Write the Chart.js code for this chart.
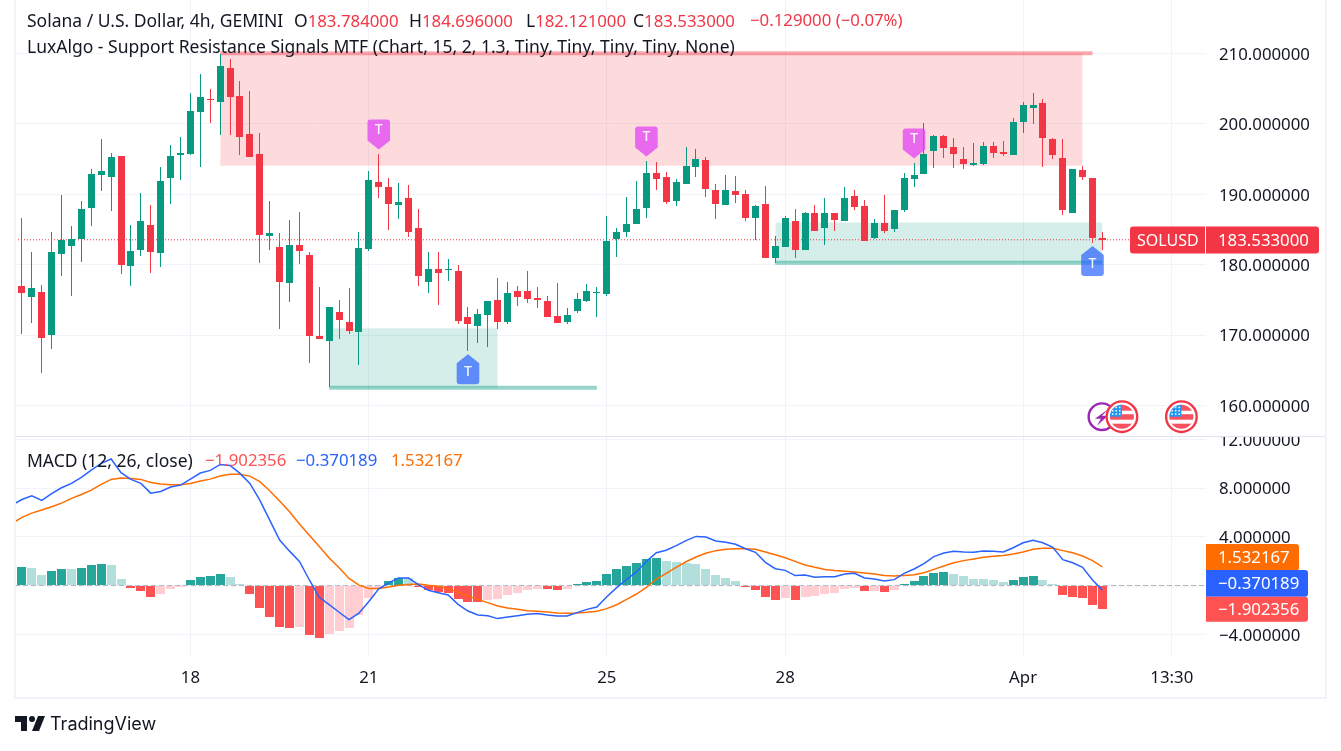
<!DOCTYPE html>
<html><head><meta charset="utf-8"><title>SOLUSD</title>
<script src="https://cdn.jsdelivr.net/npm/chart.js@4/dist/chart.umd.js"></script>
<style>
html,body{margin:0;padding:0;background:#fff;}
#wrap{position:relative;width:1341px;height:751px;overflow:hidden;font-family:"Noto Sans",sans-serif;color:#131722;}
canvas{position:absolute;left:0;top:0;}
.t{position:absolute;white-space:pre;font-size:17.5px;line-height:22px;}
.n{font-size:16.8px}
.r{color:#f23645}
</style></head><body>
<div id="wrap">
<canvas id="c" width="1341" height="751"></canvas>
<span class="t" style="left:27px;top:9px">Solana / U.S. Dollar, 4h, GEMINI</span>
<span class="t" style="left:294px;top:9px">O<span class="r n">183.784000</span></span>
<span class="t" style="left:409px;top:9px">H<span class="r n">184.696000</span></span>
<span class="t" style="left:526px;top:9px">L<span class="r n">182.121000</span></span>
<span class="t" style="left:633px;top:9px">C<span class="r n">183.533000</span></span>
<span class="t r n" style="left:750px;top:9px">−0.129000 (−0.07%)</span>
<span class="t" style="left:27px;top:35px">LuxAlgo - Support Resistance Signals MTF (Chart, 15, 2, 1.3, Tiny, Tiny, Tiny, Tiny, None)</span>
<span class="t" style="left:27px;top:449px">MACD (12, 26, close)</span>
<span class="t n" style="left:205px;top:449px;color:#ff5252">−1.902356</span>
<span class="t n" style="left:296px;top:449px;color:#2962ff">−0.370189</span>
<span class="t n" style="left:391px;top:449px;color:#ff6d00">1.532167</span>
<svg style="position:absolute;left:13px;top:710px" width="36" height="28" viewBox="0 0 36 28"><path fill="#131722" d="M14 6H2v6h6v9h6V6Zm12 15h-7l6-15h7l-6 15Zm-7-9a3 3 0 1 0 0-6 3 3 0 0 0 0 6Z"/></svg>
<span class="t" style="left:50px;top:713px;font-size:18px;font-family:Inter,sans-serif;">TradingView</span>
</div>
<script>
const opens=[176.95,175.39,176.10,169.99,181.50,182.63,183.63,188.03,192.72,192.43,
195.42,179.79,182.06,185.61,181.64,192.29,195.56,195.70,201.67,203.51,
203.09,207.92,203.94,198.54,195.70,184.05,182.49,177.38,182.77,181.35,
169.85,169.14,173.26,171.84,170.42,182.21,191.72,191.01,188.46,189.45,
185.19,177.52,179.36,179.22,179.08,172.55,171.27,172.83,174.96,171.84,
176.24,176.24,175.25,174.82,172.69,171.84,173.40,174.82,175.96,175.81,
183.63,184.62,185.76,188.03,193.00,192.43,189.02,191.44,193.85,194.85,
190.59,188.46,190.44,190.02,186.61,188.60,180.93,182.49,186.18,182.06,
187.32,185.19,187.32,186.18,189.73,188.31,183.77,185.90,185.05,187.75,
192.15,192.86,196.13,198.26,196.69,194.99,194.14,194.28,196.84,195.98,
195.56,200.25,202.23,202.94,197.83,195.13,187.32,193.43,192.29,183.784];
const highs=[186.56,181.78,177.09,184.62,189.88,185.47,189.02,193.57,197.83,195.84,
195.42,185.61,190.16,188.46,193.85,196.98,198.12,204.37,207.06,204.93,
209.91,209.20,206.07,204.65,198.68,189.02,184.48,186.32,187.46,181.78,
176.81,173.97,174.96,176.67,184.62,193.29,195.70,192.29,191.58,191.30,
187.89,181.78,181.78,180.79,179.93,173.97,173.68,174.82,178.09,177.52,
176.95,179.08,176.81,175.53,177.38,173.82,175.96,177.23,176.81,186.89,
185.19,189.59,191.86,194.71,194.56,193.14,192.15,196.69,196.41,195.27,
191.44,192.72,192.58,190.59,188.46,191.15,184.05,186.89,187.89,187.46,
188.46,189.45,187.32,191.01,190.59,189.17,186.47,189.88,187.75,193.00,
194.42,200.10,198.40,198.40,197.97,196.69,197.26,197.40,197.40,197.55,
200.81,203.09,204.37,203.51,197.97,197.83,193.57,194.00,192.29,184.696];
const lows=[170.13,171.69,164.59,168.00,178.37,175.53,180.36,185.47,190.44,187.60,
178.65,176.95,181.21,178.80,179.65,188.60,192.01,195.56,193.85,200.10,
198.40,198.40,195.56,195.27,180.22,182.06,170.84,174.68,180.07,166.01,
169.42,162.65,169.42,170.13,165.73,181.92,189.45,184.90,186.47,183.91,
176.95,175.96,174.25,177.66,171.55,167.72,168.85,168.28,170.84,171.55,
174.11,174.53,173.82,172.55,171.69,171.55,173.11,174.68,172.55,175.53,
181.07,183.91,185.76,186.61,190.59,188.60,188.31,191.44,192.43,189.59,
186.47,188.46,188.74,186.18,183.48,180.93,180.22,182.49,180.93,182.06,
184.76,182.77,184.76,186.18,187.75,183.34,183.63,184.48,184.62,187.46,
191.01,192.86,193.71,195.13,193.71,193.57,194.00,194.14,195.13,195.42,
195.56,198.68,199.96,193.85,194.99,187.04,187.32,192.01,183.06,182.121];
const closes=[175.96,176.67,169.56,181.78,183.48,183.63,187.89,192.86,193.29,195.27,
179.93,181.92,186.18,181.78,191.86,195.42,195.84,201.81,203.80,203.37,
208.20,203.80,198.12,195.27,184.19,184.48,177.52,182.77,181.92,169.85,
169.42,173.97,172.12,170.56,182.35,192.01,191.01,188.60,188.88,184.62,
178.37,179.36,178.80,179.36,171.98,171.55,172.97,174.82,171.84,175.96,
175.39,175.10,174.96,172.55,171.69,172.83,175.10,176.24,176.10,183.34,
184.62,185.76,187.89,193.00,192.15,188.88,191.72,194.00,194.99,190.73,
188.60,190.59,189.88,186.61,188.31,180.93,182.63,186.61,182.06,187.32,
184.76,187.32,186.32,189.45,188.17,183.34,185.90,184.76,187.75,192.29,
192.72,195.70,198.26,196.55,195.70,194.28,194.42,196.84,195.84,195.70,
200.25,202.66,202.66,197.97,195.56,187.75,193.57,192.43,183.78,183.533];

// MACD pane: the first entry of each series is the bar just left of the first candle
const histogram=[1.37,1.50,1.42,0.85,1.18,1.34,1.34,1.42,1.67,1.75,1.67,0.52,
-0.22,-0.47,-0.96,-0.71,-0.30,-0.14,0.44,0.68,0.77,0.93,0.68,0.03,
-0.71,-1.86,-2.60,-3.42,-3.50,-3.42,-4.08,-4.32,-4.00,-3.75,-3.50,-2.44,-1.04,-0.20,
0.36,0.62,0.60,-0.14,-0.36,-0.55,-0.60,-1.09,-1.34,-1.34,-1.18,-1.09,-0.77,-0.60,-0.36,-0.27,-0.27,-0.36,-0.27,
0.05,0.30,0.38,0.96,1.37,1.61,1.86,2.19,2.27,2.03,1.94,1.86,1.78,1.37,0.88,0.63,0.38,
-0.11,-0.36,-0.93,-1.18,-1.01,-1.18,-0.93,-0.85,-0.68,-0.60,-0.27,-0.19,-0.44,-0.44,-0.52,-0.36,
0.14,0.38,0.79,1.04,1.12,0.96,0.79,0.55,0.55,0.47,0.30,0.47,0.71,0.79,0.47,0.02,
-0.77,-0.93,-1.01,-1.59,-1.902356];
const histStrong=[1,1,0,0,1,1,0,1,1,1,0,0,
1,1,1,0,0,0,1,1,1,1,0,0,
1,1,1,1,1,0,1,1,0,0,0,0,0,0,
1,1,0,1,1,1,1,1,1,1,0,0,0,0,0,0,1,1,0,
1,1,1,1,1,1,1,1,1,0,0,0,0,0,0,0,0,
1,1,1,1,0,1,0,0,0,0,0,0,1,0,1,0,
1,1,1,1,1,0,0,0,0,0,0,1,1,1,0,0,
1,1,1,1,1];
const macdLine=[6.60,7.07,7.37,6.99,7.56,8.03,8.39,8.88,9.48,10.03,10.39,9.27,
8.72,8.39,7.59,7.73,8.09,8.25,8.74,9.24,9.46,9.95,9.87,9.21,8.39,7.02,5.38,3.74,2.83,1.99,0.46,
-0.96,-1.56,-2.19,-2.79,-2.27,-1.31,-0.27,0.22,0.63,0.62,0.08,-0.39,-0.58,-0.77,-1.54,-2.09,-2.41,-2.47,-2.71,-2.58,
-2.47,-2.36,-2.30,-2.41,-2.50,-2.50,-2.22,-1.95,-1.76,-0.91,-0.17,0.51,1.12,1.99,2.70,2.90,3.28,3.69,4.04,3.99,
3.66,3.55,3.39,3.03,2.73,1.91,1.39,1.25,0.82,0.87,0.68,0.73,0.73,0.95,1.01,0.62,0.54,0.38,0.49,1.01,
1.36,1.80,2.38,2.68,2.81,2.76,2.73,2.84,2.81,2.76,3.11,3.52,3.72,3.52,3.14,2.13,1.88,1.50,0.46,-0.370189];
const signalLine=[5.10,5.60,5.95,6.20,6.47,6.77,7.16,7.48,7.84,8.31,8.72,8.83,
8.80,8.72,8.47,8.34,8.28,8.28,8.39,8.58,8.74,8.99,9.15,9.15,8.99,8.53,7.79,6.94,6.06,5.05,4.14,
3.22,2.26,1.47,0.59,0.04,-0.23,-0.23,-0.12,0.02,0.10,0.13,0.02,-0.06,-0.25,-0.56,-0.85,-1.13,-1.40,-1.67,-1.84,
-1.95,-2.06,-2.11,-2.17,-2.25,-2.28,-2.25,-2.19,-2.11,-1.89,-1.57,-1.13,-0.69,-0.14,0.54,1.01,1.50,1.96,2.35,2.65,
2.87,2.98,3.03,3.03,2.98,2.76,2.54,2.29,1.99,1.69,1.50,1.33,1.23,1.17,1.12,1.03,0.95,0.82,0.79,0.82,
0.90,1.06,1.33,1.61,1.88,2.05,2.18,2.32,2.40,2.48,2.59,2.76,2.98,3.06,3.06,2.87,2.70,2.43,2.05,1.532167];

// Tick labels
const timeTickBars=[17,35,59,77,101,116];
const timeTickLabels=["18","21","25","28","Apr","13:30"];
const priceTicks=[160,170,180,190,200,210];
const macdTicks=[-4,0,4,8,12];

// Support / resistance zones
const resistanceFrom=20, resistanceTo=107, resistanceLineTo=108, resistanceTop=210, resistanceBottom=194.03;
const supportAFrom=31, supportATo=48, supportALineTo=58, supportATop=170.98, supportALevel=162.53;
const supportBFrom=76, supportBTo=109, supportBLineTo=109, supportBTop=185.99, supportBLevel=180.26;

const sellSignals=[36,63,90];
const buySignals=[45,108];
const eventBolt=[111];
const eventFlags=[111,117];
const lastPrice=183.533;
const macdLastLabels=["1.532167","−0.370189","−1.902356"];

const UP='#089981', DOWN='#f23645', GRID='#f0f3fa', TEXT='#131722';
const X_MIN=-0.696, X_MAX=119.45;
const FONT='"Noto Sans",sans-serif';
const idx=opens.map((_,i)=>i);
const candleColor=i=>closes[i]>=opens[i]?UP:DOWN;

function seg(a,b,v){return [{x:a,y:v},{x:b,y:v}];}
function zone(from,to,top,bottom,fill){
  return {type:'line',yAxisID:'y',data:seg(from,to,top),borderWidth:0,pointRadius:0,backgroundColor:fill,fill:{value:bottom},order:20};
}
function level(from,to,v,color){
  return {type:'line',yAxisID:'y',data:seg(from,to,v),borderColor:color,borderWidth:4,pointRadius:0,borderCapStyle:'butt',fill:false,order:19};
}
function noPad(s){s.paddingTop=0;s.paddingBottom=0;s.paddingLeft=0;s.paddingRight=0;}

const datasets=[
 zone(resistanceFrom,resistanceTo,resistanceTop,resistanceBottom,'rgba(242,54,69,0.18)'),
 level(resistanceFrom,resistanceLineTo,resistanceTop,'rgba(242,54,69,0.42)'),
 zone(supportAFrom,supportATo,supportATop,supportALevel,'rgba(8,153,129,0.17)'),
 level(supportAFrom,supportALineTo,supportALevel,'rgba(8,153,129,0.42)'),
 zone(supportBFrom,supportBTo,supportBTop,supportBLevel,'rgba(8,153,129,0.17)'),
 level(supportBFrom,supportBLineTo,supportBLevel,'rgba(8,153,129,0.42)'),
 {type:'line',yAxisID:'y',data:seg(X_MIN,X_MAX,lastPrice),borderColor:DOWN,borderWidth:1,borderDash:[1,2],pointRadius:0,order:12},
 {type:'bar',yAxisID:'y',data:idx.map(i=>({x:i,y:[lows[i],highs[i]]})),backgroundColor:idx.map(candleColor),barThickness:1,grouped:false,inflateAmount:0,order:6,snap:true},
 {type:'bar',yAxisID:'y',data:idx.map(i=>({x:i,y:[Math.min(opens[i],closes[i]),Math.max(opens[i],closes[i])]})),backgroundColor:idx.map(candleColor),barThickness:7,minBarLength:1,grouped:false,inflateAmount:0,order:5,snap:true},
 {type:'line',yAxisID:'y2',data:seg(X_MIN,X_MAX,0),borderColor:'rgba(120,123,134,0.55)',borderWidth:1,borderDash:[5,3],pointRadius:0,order:9},
 {type:'bar',yAxisID:'y2',data:histogram.map((v,i)=>({x:i-1,y:v})),
  backgroundColor:histogram.map((v,i)=>v>=0?(histStrong[i]?'#26a69a':'#b2dfdb'):(histStrong[i]?'#ff5252':'#ffcdd2')),
  barThickness:9,grouped:false,inflateAmount:0,order:8,snap:true},
 {type:'line',yAxisID:'y2',data:signalLine.map((v,i)=>({x:i-1,y:v})),borderColor:'#ff6d00',borderWidth:1.5,pointRadius:0,tension:0,order:2},
 {type:'line',yAxisID:'y2',data:macdLine.map((v,i)=>({x:i-1,y:v})),borderColor:'#2962ff',borderWidth:1.5,pointRadius:0,tension:0,order:1},
];

function marker(ctx,cx,tip,dir,color){
  const hw=11.3,sh=9,len=30,r=3;
  ctx.save();ctx.fillStyle=color;ctx.beginPath();
  ctx.moveTo(cx,tip);
  const ys=tip+dir*sh, ye=tip+dir*len;
  ctx.lineTo(cx+hw,ys);
  ctx.lineTo(cx+hw,ye-dir*r);
  ctx.quadraticCurveTo(cx+hw,ye,cx+hw-r,ye);
  ctx.lineTo(cx-hw+r,ye);
  ctx.quadraticCurveTo(cx-hw,ye,cx-hw,ye-dir*r);
  ctx.lineTo(cx-hw,ys);
  ctx.closePath();ctx.fill();
  ctx.fillStyle='rgba(255,255,255,0.92)';ctx.font='500 14px '+FONT;ctx.textAlign='center';ctx.textBaseline='middle';
  ctx.fillText('T',cx,tip+dir*(dir>0?18.3:20));
  ctx.restore();
}
function flagIcon(ctx,cx,cy){
  ctx.save();
  ctx.beginPath();ctx.arc(cx,cy,15.3,0,7);ctx.fillStyle='#fff';ctx.fill();
  ctx.lineWidth=2.4;ctx.strokeStyle=DOWN;ctx.stroke();
  ctx.beginPath();ctx.arc(cx,cy,12,0,7);ctx.clip();
  ctx.fillStyle='#f7525f';
  ctx.fillRect(cx-13,cy-13,26,7);ctx.fillRect(cx-13,cy-2.5,26,5.5);ctx.fillRect(cx-13,cy+7,26,7);
  ctx.fillStyle='#2196f3';ctx.fillRect(cx-13,cy-13,13,13);
  ctx.fillStyle='#fff';
  for(let a=0;a<3;a++)for(let b=0;b<3;b++)ctx.fillRect(cx-10+a*3.5,cy-10+b*3.3,1.5,1.5);
  ctx.restore();
}
function boltIcon(ctx,cx,cy){
  ctx.save();
  ctx.beginPath();ctx.arc(cx,cy,13.3,0,7);ctx.fillStyle='#fff';ctx.fill();
  ctx.lineWidth=2.4;ctx.strokeStyle='#9c27b0';ctx.stroke();
  ctx.fillStyle='#9c27b0';ctx.beginPath();
  ctx.moveTo(cx+7,cy-8);ctx.lineTo(cx-7,cy+2);ctx.lineTo(cx-1,cy+2);ctx.lineTo(cx-5,cy+9);ctx.lineTo(cx+6,cy-1);ctx.lineTo(cx,cy-1);ctx.closePath();ctx.fill();
  ctx.restore();
}
function tag(ctx,x,y,w,h,color,text,tx,radii,size){
  ctx.save();ctx.fillStyle=color;ctx.beginPath();ctx.roundRect(x,y,w,h,radii);ctx.fill();
  ctx.fillStyle='#fff';ctx.font=(size||16.8)+'px '+FONT;ctx.textAlign='left';ctx.textBaseline='middle';
  ctx.fillText(text,tx,y+h/2+1);ctx.restore();
}

const overlays={
 id:'overlays',
 afterDatasetsUpdate(chart){
  chart.getSortedVisibleDatasetMetas().forEach(m=>{
    if(m.type!=='bar'||!chart.data.datasets[m.index].snap)return;
    m.data.forEach(el=>{el.x=Math.floor(el.x)+0.5;el.y=Math.round(el.y);el.base=Math.round(el.base);
      if(el.y===el.base)el.y-=1;});
  });
 },
 afterDatasetsDraw(chart){
  const ctx=chart.ctx,x=chart.scales.x,y=chart.scales.y;
  sellSignals.forEach(i=>marker(ctx,x.getPixelForValue(i),y.getPixelForValue(highs[i])-4.5,-1,'rgba(226,70,243,0.76)'));
  buySignals.forEach(i=>marker(ctx,x.getPixelForValue(i),y.getPixelForValue(lows[i])+3,1,'rgba(41,98,255,0.7)'));
  const ic=416.7;
  eventBolt.forEach(i=>boltIcon(ctx,x.getPixelForValue(i)-0.3-20,ic));
  eventFlags.forEach(i=>flagIcon(ctx,x.getPixelForValue(i)-0.3,ic));
 },
 afterDraw(chart){
  const ctx=chart.ctx,y=chart.scales.y;
  ctx.save();
  ctx.fillStyle='#fff';ctx.fillRect(1207,422,118,15);
  ctx.fillStyle='#e0e3eb';ctx.fillRect(15,436,1311,1);
  ctx.fillStyle=GRID;
  ctx.fillRect(14,0,2,699);ctx.fillRect(1325,0,2,699);ctx.fillRect(14,697,1313,2);
  ctx.restore();
  const py=Math.round(y.getPixelForValue(lastPrice));
  tag(ctx,1130,py-13.5,189,27,DOWN,'SOLUSD',1137,3,16);
  tag(ctx,1130,py-13.5,189,27,'rgba(0,0,0,0)',lastPrice.toFixed(6),1218,3);
  ctx.fillStyle='#fff';ctx.fillRect(1205,py-13.5,1,27);
  tag(ctx,1206,544,93,26.7,'#ff6d00',macdLastLabels[0],1218,[0,3,3,0]);
  tag(ctx,1206,570,102,26.7,'#2962ff',macdLastLabels[1],1218,[0,3,3,0]);
  tag(ctx,1206,596.7,102,25,'#ff5252',macdLastLabels[2],1218,[0,3,3,0]);
 }
};

new Chart(document.getElementById('c'),{
 type:'bar',
 data:{datasets},
 plugins:[overlays],
 options:{
  responsive:false,animation:false,events:[],devicePixelRatio:1,
  layout:{autoPadding:false,padding:{left:15,right:15,top:0,bottom:53}},
  plugins:{legend:{display:false},tooltip:{enabled:false}},
  scales:{
   x:{type:'linear',min:X_MIN,max:X_MAX,offset:false,
      grid:{color:GRID,drawTicks:false,offset:false},border:{display:false},
      afterBuildTicks(s){s.ticks=timeTickBars.map(v=>({value:v}));},
      afterFit(s){s.height=42;noPad(s);},
      ticks:{autoSkip:false,maxRotation:0,padding:12,color:TEXT,font:{family:FONT,size:16.8},
        callback:v=>timeTickLabels[timeTickBars.indexOf(v)]??''}},
   y:{type:'linear',position:'right',min:155.54,max:217.57,stack:'panes',stackWeight:437,weight:1,
      grid:{color:GRID,drawTicks:false},border:{display:false},
      afterBuildTicks(s){s.ticks=priceTicks.map(v=>({value:v}));},
      afterFit(s){s.width=120;noPad(s);},
      ticks:{padding:13,labelOffset:1.5,color:TEXT,font:{family:FONT,size:16.8},callback:v=>v.toFixed(6)}},
   y2:{type:'linear',position:'right',min:-5.78,max:12.2,stack:'panes',stackWeight:219,weight:2,
      grid:{color:GRID,drawTicks:false},border:{display:false},
      afterBuildTicks(s){s.ticks=macdTicks.map(v=>({value:v}));},
      afterFit(s){s.width=120;noPad(s);},
      ticks:{padding:13,labelOffset:1.5,color:TEXT,font:{family:FONT,size:16.8},
        callback:v=>v===0?'':(v<0?'−':'')+Math.abs(v).toFixed(6)}}
  }
 }
});
</script>
</body></html>
